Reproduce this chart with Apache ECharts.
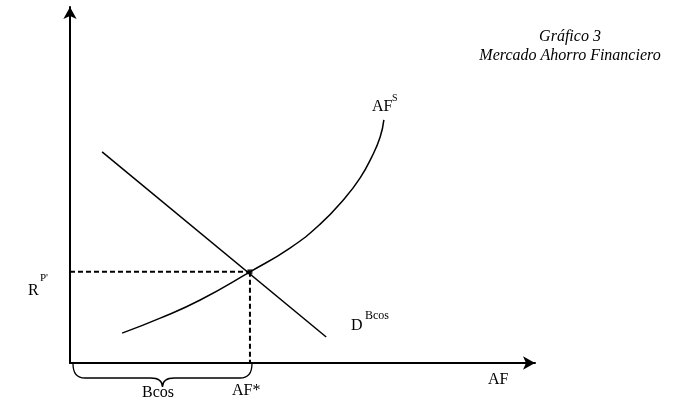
<!DOCTYPE html>
<html><head><meta charset="utf-8">
<script src="https://cdn.jsdelivr.net/npm/echarts@6/dist/echarts.min.js"></script>
<style>html,body{margin:0;padding:0;background:#fff}#c{width:697px;height:405px}</style>
</head><body><div id="c"></div>
<script>
// Supply curve AF^S (data units: x and y from 0 to 100 along the axes)
const supplyX = [11.2, 19.4, 28.0, 38.7, 47.3, 53.8, 59.1, 62.4, 64.9, 66.7, 67.5];
const supplyY = [8.4, 12.6, 17.7, 25.6, 32.3, 39.0, 46.3, 52.0, 57.9, 63.5, 68.3];
// Demand line D^Bcos
const demandX = [6.9, 55.1];
const demandY = [59.3, 7.3];
// Equilibrium (AF*, R^P')
const equilibrium = [38.7, 25.6];
const axisMax = [100, 100];
const titleLines = ['Gráfico 3', 'Mercado Ahorro Financiero'];
const labelTexts = ['R', "P'", 'AF', 'S', 'D', 'Bcos', 'Bcos', 'AF*', 'AF'];

const chart = echarts.init(document.getElementById('c'), null, {renderer: 'canvas'});
const serif = 'Liberation Serif, Times New Roman, serif';
function txt(t, x, y, size, extra) {
  return {
    type: 'text', x: x, y: y, silent: true,
    style: Object.assign({text: t, font: size + 'px ' + serif, fill: '#000', textAlign: 'left', textVerticalAlign: 'middle'}, extra || {})
  };
}
const L = labelTexts;
const graphics = [
  txt(titleLines[0], 570, 37, 16, {textAlign: 'center', font: 'italic 16px ' + serif}),
  txt(titleLines[1], 570, 56, 16, {textAlign: 'center', font: 'italic 16px ' + serif}),
  txt(L[0], 28, 291, 16), txt(L[1], 40, 278, 11),
  txt(L[2], 372, 107, 16), txt(L[3], 392, 98, 10),
  txt(L[4], 351, 326, 16), txt(L[5], 365, 316, 12),
  txt(L[6], 142, 393, 16),
  txt(L[7], 232, 391, 16),
  txt(L[8], 488, 380, 16)
];

const axisCommon = {
  type: 'value', min: 0,
  axisLine: {show: true, symbol: ['none', 'arrow'], symbolSize: [10, 12], lineStyle: {color: '#000', width: 2}},
  axisTick: {show: false}, axisLabel: {show: false}, splitLine: {show: false}
};

chart.setOption({
  animation: false,
  backgroundColor: '#fff',
  grid: {left: 70, right: 162, top: 7, bottom: 42},
  xAxis: Object.assign({}, axisCommon, {max: axisMax[0]}),
  yAxis: Object.assign({}, axisCommon, {max: axisMax[1]}),
  graphic: graphics,
  series: [
    {type: 'line', data: supplyX.map((x, i) => [x, supplyY[i]]), smooth: true, symbol: 'none',
     lineStyle: {color: '#000', width: 1.5}, clip: false},
    {type: 'line', data: demandX.map((x, i) => [x, demandY[i]]), symbol: 'none',
     lineStyle: {color: '#000', width: 1.5}, clip: false},
    {type: 'line', data: [[0, equilibrium[1]], [equilibrium[0], equilibrium[1]]], symbol: 'none',
     lineStyle: {color: '#000', width: 2, type: [5, 3]}},
    {type: 'line', data: [[equilibrium[0], equilibrium[1]], [equilibrium[0], 0]], symbol: 'none',
     lineStyle: {color: '#000', width: 2, type: [5, 3]}},
    {type: 'scatter', data: [equilibrium], symbol: 'rect', symbolSize: 5, itemStyle: {color: '#000'}},
    {type: 'custom', clip: false, data: [[0, equilibrium[0]]],
     renderItem: function (params, api) {
       const a = api.coord([api.value(0), 0]);
       const b = api.coord([api.value(1), 0]);
       const x0 = a[0] + 3, x1 = b[0] + 2, y0 = a[1] + 1, mid = (x0 + x1) / 2;
       const yb = y0 + 14, tip = y0 + 23;
       const d = 'M' + x0 + ' ' + y0 +
         ' Q' + x0 + ' ' + yb + ' ' + (x0 + 12) + ' ' + yb +
         ' L' + (mid - 12) + ' ' + yb +
         ' Q' + mid + ' ' + yb + ' ' + mid + ' ' + tip +
         ' Q' + mid + ' ' + yb + ' ' + (mid + 12) + ' ' + yb +
         ' L' + (x1 - 12) + ' ' + yb +
         ' Q' + x1 + ' ' + yb + ' ' + x1 + ' ' + y0;
       return {type: 'path', shape: {pathData: d}, style: {stroke: '#000', lineWidth: 1.3, fill: null}};
     }}
  ]
});
</script></body></html>
